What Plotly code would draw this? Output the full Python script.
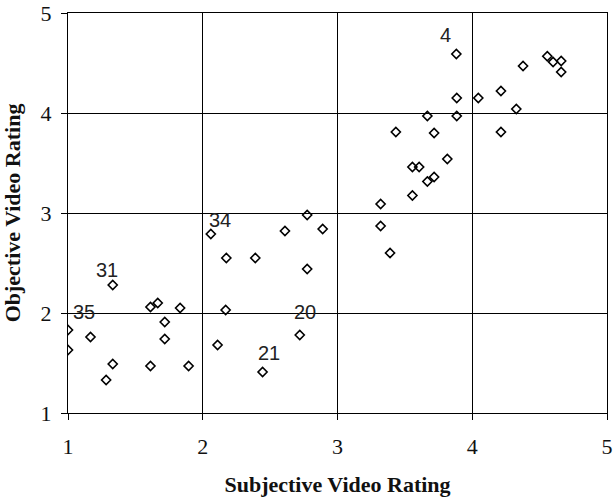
import plotly.graph_objects as go

# Subjective (x) and objective (y) video ratings
subjective = [1.00, 1.00, 1.167, 1.283, 1.332, 1.332, 1.612, 1.612, 1.666, 1.718,
              1.718, 1.832, 1.895, 2.06, 2.11, 2.17, 2.175, 2.39, 2.444, 2.61,
              2.72, 2.775, 2.775, 2.89, 3.32, 3.32, 3.39, 3.433, 3.556, 3.556,
              3.606, 3.667, 3.717, 3.667, 3.717, 3.815, 3.882, 3.885, 3.885, 4.045,
              4.213, 4.213, 4.327, 4.377, 4.557, 4.60, 4.66, 4.66]
objective = [1.83, 1.63, 1.76, 1.33, 1.49, 2.28, 2.06, 1.47, 2.10, 1.91,
             1.74, 2.05, 1.47, 2.79, 1.68, 2.03, 2.55, 2.55, 1.41, 2.82,
             1.78, 2.98, 2.44, 2.84, 3.09, 2.87, 2.60, 3.81, 3.175, 3.46,
             3.46, 3.315, 3.36, 3.97, 3.80, 3.54, 4.59, 4.15, 3.97, 4.15,
             4.22, 3.81, 4.04, 4.47, 4.567, 4.51, 4.52, 4.41]

# Labelled points (label text, index of point)
label_texts = ["35", "31", "34", "21", "20", "4"]
label_points = [0, 5, 13, 18, 20, 36]
# label offsets in pixels (style)
label_shifts = [(16, 18), (-6, 15), (9, 14), (6, 19), (5, 23), (-11, 19)]

tick_vals = [1, 2, 3, 4, 5]

fig = go.Figure()
fig.add_trace(go.Scatter(
    x=subjective, y=objective, mode="markers",
    marker=dict(symbol="diamond-open", size=7, color="black",
                line=dict(color="black", width=1.6)),
    showlegend=False, hoverinfo="skip"))

for txt, idx, (dx, dy) in zip(label_texts, label_points, label_shifts):
    fig.add_annotation(x=subjective[idx], y=objective[idx], text=txt,
                       showarrow=False, xshift=dx, yshift=dy,
                       font=dict(family="Liberation Sans, Arial", size=20, color="#222222"))

axis_common = dict(
    tickvals=tick_vals, ticktext=[str(v) for v in tick_vals],
    showgrid=True, gridcolor="black", gridwidth=1,
    zeroline=False, showline=True, linecolor="black", linewidth=1, mirror=True,
    ticks="outside", ticklen=6, tickcolor="black", tickwidth=1,
    tickfont=dict(family="Liberation Serif, Times New Roman", size=22, color="#111111"),
)

fig.update_xaxes(range=[1, 5], title=dict(text="<b>Subjective Video Rating</b>",
                 font=dict(family="Liberation Serif, Times New Roman", size=22, color="#111111"),
                 standoff=18),
                 ticklabelstandoff=8,
                 **axis_common)
fig.update_yaxes(range=[1, 5], title=dict(text="<b>Objective Video Rating</b>",
                 font=dict(family="Liberation Serif, Times New Roman", size=22, color="#111111"),
                 standoff=13),
                 ticklabelstandoff=5,
                 **axis_common)

fig.update_layout(
    width=613, height=497,
    margin=dict(l=68, r=6, t=13, b=84, autoexpand=False),
    paper_bgcolor="white", plot_bgcolor="white",
)

fig.write_html("out.html")
